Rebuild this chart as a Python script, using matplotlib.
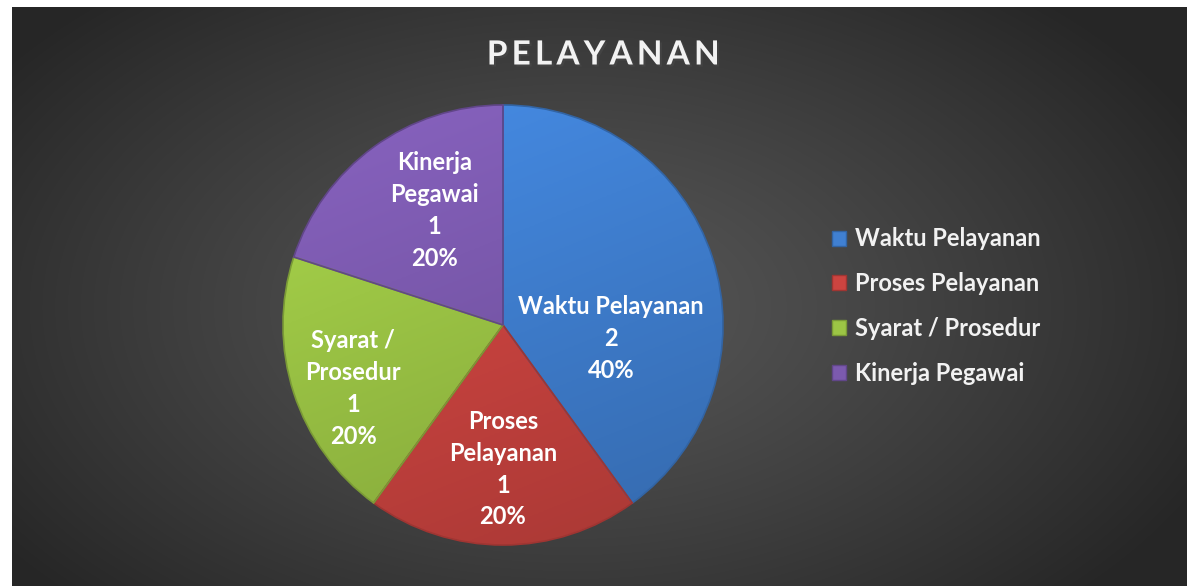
import numpy as np
import matplotlib
matplotlib.use("Agg")
import matplotlib.pyplot as plt
from matplotlib.patches import Patch
from matplotlib.colors import to_rgb
import matplotlib.patheffects as pe

categories = ["Waktu Pelayanan", "Proses Pelayanan", "Syarat / Prosedur", "Kinerja Pegawai"]
values = [2, 1, 1, 1]
label_text = ["Waktu Pelayanan", "Proses\nPelayanan", "Syarat /\nProsedur", "Kinerja\nPegawai"]
colors = ["#4080D2", "#CC4440", "#9CC545", "#7C5AAF"]

# label centres, in units of the pie radius
label_pos = [(0.49, -0.06), (0.0, -0.655), (-0.68, -0.29), (-0.31, 0.52)]

W, H = 1187, 586
fig = plt.figure(figsize=(W / 100, H / 100), dpi=100)
fig.patch.set_facecolor("white")

# background with radial gradient
bg = fig.add_axes([12 / W, 0, 1 - 12 / W, 1 - 7 / H])
bg.axis("off")
yy, xx = np.mgrid[0:579, 0:1175]
d = np.sqrt(((xx - 560) / 700.0) ** 2 + ((yy - 300) / 420.0) ** 2)
d = np.clip(d, 0, 1)
shade = 0.34 - 0.19 * d ** 1.2
img = np.dstack([shade, shade, shade])
bg.imshow(img, aspect="auto", extent=[0, 1, 0, 1], origin="upper")
bg.set_xlim(0, 1)
bg.set_ylim(0, 1)

# pie
cx, cy, R, pad = 503, 325, 220, 240
ax = fig.add_axes([(cx - pad) / W, (H - cy - pad) / H, 2 * pad / W, 2 * pad / H])
wedges, _ = ax.pie(values, colors=colors, startangle=90, counterclock=False,
                   radius=1, wedgeprops=dict(edgecolor="none", linewidth=0))
ax.set_xlim(-pad / R, pad / R)
ax.set_ylim(-pad / R, pad / R)
ax.set_aspect("equal")
ax.axis("off")

gy = np.linspace(1, -1, 200)[:, None] * np.ones((1, 200))
gx = np.ones((200, 1)) * np.linspace(-1, 1, 200)[None, :]
for w, c in zip(wedges, colors):
    base = np.array(to_rgb(c))
    t = (gy + 1) / 2  # 1 at top, 0 at bottom
    k = 0.86 + 0.2 * t - 0.04 * gx
    grad = np.clip(base[None, None, :] * k[:, :, None], 0, 1)
    im = ax.imshow(grad, extent=[-1, 1, -1, 1], origin="upper", zorder=2)
    im.set_clip_path(w)
    w.set_facecolor("none")
    w.set_edgecolor(np.clip(base * 0.78, 0, 1))
    w.set_linewidth(1.2)
    w.set_zorder(3)

for txt, v, (lx, ly) in zip(label_text, values, label_pos):
    pct = 100 * v / sum(values)
    ax.text(lx, ly, f"{txt}\n{v}\n{pct:.0f}%", ha="center", va="center",
            color="white", fontsize=17, fontweight="bold", family="Lato",
            linespacing=1.47, zorder=5)

# title
title = "\u2009".join("PELAYANAN")
fig.text(603 / W, 1 - 55 / H, title, ha="center", va="center", color="#F2F2F2",
         fontsize=24, fontweight="bold", family=["Lato", "DejaVu Sans"],
         path_effects=[pe.withSimplePatchShadow(offset=(1.5, -1.5), alpha=0.6)])

handles = [Patch(facecolor=c, edgecolor=np.clip(np.array(to_rgb(c)) * 0.78, 0, 1))
           for c in colors]
leg = fig.legend(handles, categories, loc="center left",
                 bbox_to_anchor=(811 / W, 1 - 306 / H), frameon=False,
                 handlelength=0.6, handleheight=0.6, handletextpad=0.35,
                 labelspacing=0.92, prop=dict(family="Lato", weight="bold", size=17))
for t in leg.get_texts():
    t.set_color("#F2F2F2")

fig.savefig("out.png", dpi=100, facecolor="white")
